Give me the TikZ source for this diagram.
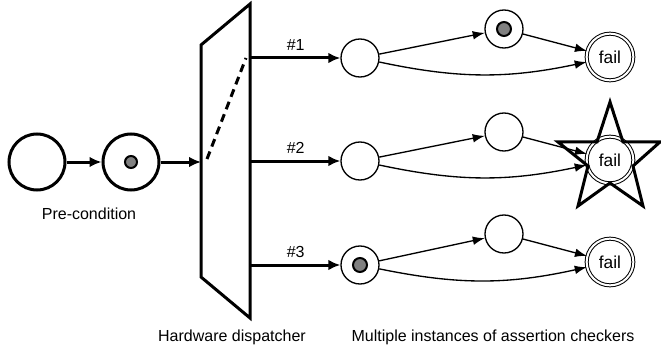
\documentclass[tikz,border=0pt]{standalone}
\usepackage{fontspec}
\setmainfont{Liberation Sans}
\usetikzlibrary{arrows.meta}
\begin{document}
\begin{tikzpicture}[x=0.75pt,y=-0.75pt,
  bigplace/.style={circle,draw,line width=2.25pt,minimum size=42pt,inner sep=0pt,fill=white},
  place/.style={circle,draw,line width=1pt,minimum size=28.5pt,inner sep=0pt,fill=white},
  failplace/.style={circle,draw,line width=0.75pt,double,double distance=1.5pt,minimum size=35pt,inner sep=0pt,font=\fontsize{13}{15}\selectfont},
  tokenbig/.style={circle,draw,line width=1.5pt,fill=black!50,minimum size=9pt,inner sep=0pt},
  tokensmall/.style={circle,draw,line width=1.5pt,fill=black!50,minimum size=10.5pt,inner sep=0pt},
  thickarrow/.style={line width=2.25pt,-{Latex[length=9pt,width=8pt]}},
  thinarrow/.style={line width=1pt,-{Latex[length=9pt,width=6.5pt]}},
  lbl/.style={font=\fontsize{12}{14}\selectfont}
]
\useasboundingbox (0,0) rectangle (661,360);

% pre-condition
\node[bigplace] (p1) at (37,162) {};
\node[bigplace] (p2) at (131,162) {};
\node[tokenbig] (t0) at (p2.center) {};
\node[lbl] (lpre) at (89,214) {Pre-condition};

% dispatcher
\coordinate (dtl) at (201,45);
\coordinate (dtr) at (250,4);
\coordinate (dbr) at (250,318);
\coordinate (dbl) at (201,277);
\draw[line width=2.25pt,line join=miter] (dtl) -- (dtr) -- (dbr) -- (dbl) -- cycle;
\coordinate (din) at (201,162);
\coordinate (dsa) at (207,159);
\coordinate (dsb) at (246,58);
\draw[line width=2.25pt,dash pattern=on 6pt off 4pt] (dsa) -- (dsb);
\coordinate (d1) at (251,58);
\coordinate (d2) at (251,161);
\coordinate (d3) at (251,265);

\draw[thickarrow] (p1) -- (p2);
\draw[thickarrow] (p2) -- (din);

% rows
\node[place] (a1) at (360,58) {};
\node[place] (m1) at (504,29) {};
\node[tokensmall] (t1) at (m1.center) {};
\node[failplace,fill=white] (f1) at (610,57) {fail};

\node[place] (a2) at (360,161) {};
\node[place] (m2) at (504,132) {};
\node[failplace,fill=white] (f2) at (610,160) {fail};

\node[place] (a3) at (360,265) {};
\node[tokensmall] (t3) at (a3.center) {};
\node[place] (m3) at (504,234) {};
\node[failplace,fill=white] (f3) at (610,262) {fail};

\draw[thickarrow] (d1) -- (a1) node[lbl,midway,above=1pt] {\#1};
\draw[thickarrow] (d2) -- (a2) node[lbl,midway,above=1pt] {\#2};
\draw[thickarrow] (d3) -- (a3) node[lbl,midway,above=1pt] {\#3};

\foreach \i in {1,2,3}{
  \draw[thinarrow] (a\i) -- (m\i);
  \draw[thinarrow] (m\i) -- (f\i);
  \draw[thinarrow] (a\i) to[bend right=12] (f\i);
}

% star over second fail
\draw[line width=2.25pt,line join=miter]
  (610,102) -- (623,142) -- (660,142) -- (633,166) -- (643,206) -- (610,183)
  -- (578,206) -- (588,166) -- (558,142) -- (597,142) -- cycle;

\node[lbl] (lhw) at (232,337) {Hardware dispatcher};
\node[lbl] (lmi) at (493,337) {Multiple instances of assertion checkers};
\end{tikzpicture}
\end{document}
